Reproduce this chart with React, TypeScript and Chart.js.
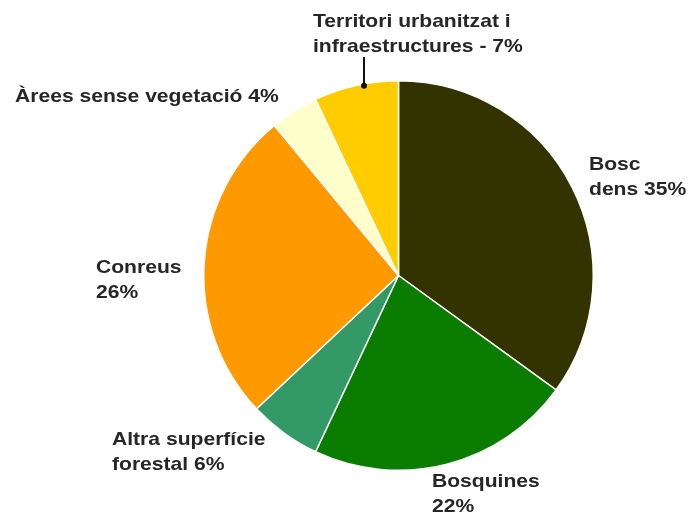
import React, { useEffect, useRef } from "react";
import { Chart, registerables } from "chart.js";

Chart.register(...registerables);

const categories = [
  "Bosc dens",
  "Bosquines",
  "Altra superfície forestal",
  "Conreus",
  "Àrees sense vegetació",
  "Territori urbanitzat i infraestructures",
];
const values = [35, 22, 6, 26, 4, 7];
const colors = ["#333300", "#0a7d00", "#339966", "#ff9900", "#ffffcc", "#ffcc00"];
const labelLines = [
  ["Bosc", "dens 35%"],
  ["Bosquines", "22%"],
  ["Altra superfície", "forestal 6%"],
  ["Conreus", "26%"],
  ["Àrees sense vegetació 4%"],
  ["Territori urbanitzat i", "infraestructures - 7%"],
];

// label anchor (left x, first baseline y)
const labelAnchors = [
  [589, 170],
  [432, 487],
  [112, 445],
  [96, 273],
  [15, 102],
  [313, 27],
];

const H_STRETCH = 1.11;

const labelsPlugin = {
  id: "outsideLabels",
  afterDraw(chart: any) {
    const ctx = chart.ctx;
    ctx.save();
    ctx.font = "bold 19px 'Liberation Sans', Arial, sans-serif";
    ctx.fillStyle = "#262626";
    ctx.textBaseline = "alphabetic";
    ctx.textAlign = "left";
    labelLines.forEach((lines, i) => {
      const [x, y] = labelAnchors[i];
      lines.forEach((t, j) => {
        ctx.save();
        ctx.translate(x, y + j * 25);
        ctx.scale(H_STRETCH, 1);
        ctx.fillText(t, 0, 0);
        ctx.restore();
      });
    });
    // leader line for Territori
    const meta = chart.getDatasetMeta(0);
    const arc = meta.data[5];
    const { x: cx, y: cy, outerRadius } = arc.getProps(["x", "y", "outerRadius"], true);
    const lx = 364;
    const dy = Math.sqrt(outerRadius * outerRadius - (lx - cx) * (lx - cx));
    const py = cy - dy + 2;
    ctx.strokeStyle = "#111";
    ctx.lineWidth = 2;
    ctx.beginPath();
    ctx.moveTo(lx, 57);
    ctx.lineTo(lx, py);
    ctx.stroke();
    ctx.fillStyle = "#111";
    ctx.beginPath();
    ctx.arc(lx, py, 3, 0, Math.PI * 2);
    ctx.fill();
    ctx.restore();
  },
};

export default function App() {
  const ref = useRef<HTMLCanvasElement | null>(null);
  useEffect(() => {
    if (!ref.current) return;
    const chart = new Chart(ref.current, {
      type: "pie",
      data: {
        labels: categories,
        datasets: [
          {
            data: values,
            backgroundColor: colors,
            borderColor: "#ffffff",
            borderWidth: 1.5,
          },
        ],
      },
      options: {
        responsive: false,
        animation: false,
        layout: { padding: { left: 203, right: 96, top: 80, bottom: 47 } },
        plugins: {
          legend: { display: false },
          tooltip: { enabled: false },
        },
      },
      plugins: [labelsPlugin],
    });
    return () => chart.destroy();
  }, []);
  return (
    <div style={{ position: "fixed", left: 0, top: 0, width: 690, height: 518, background: "#fff" }}>
      <canvas ref={ref} width={690} height={518} style={{ width: 690, height: 518 }} />
    </div>
  );
}
